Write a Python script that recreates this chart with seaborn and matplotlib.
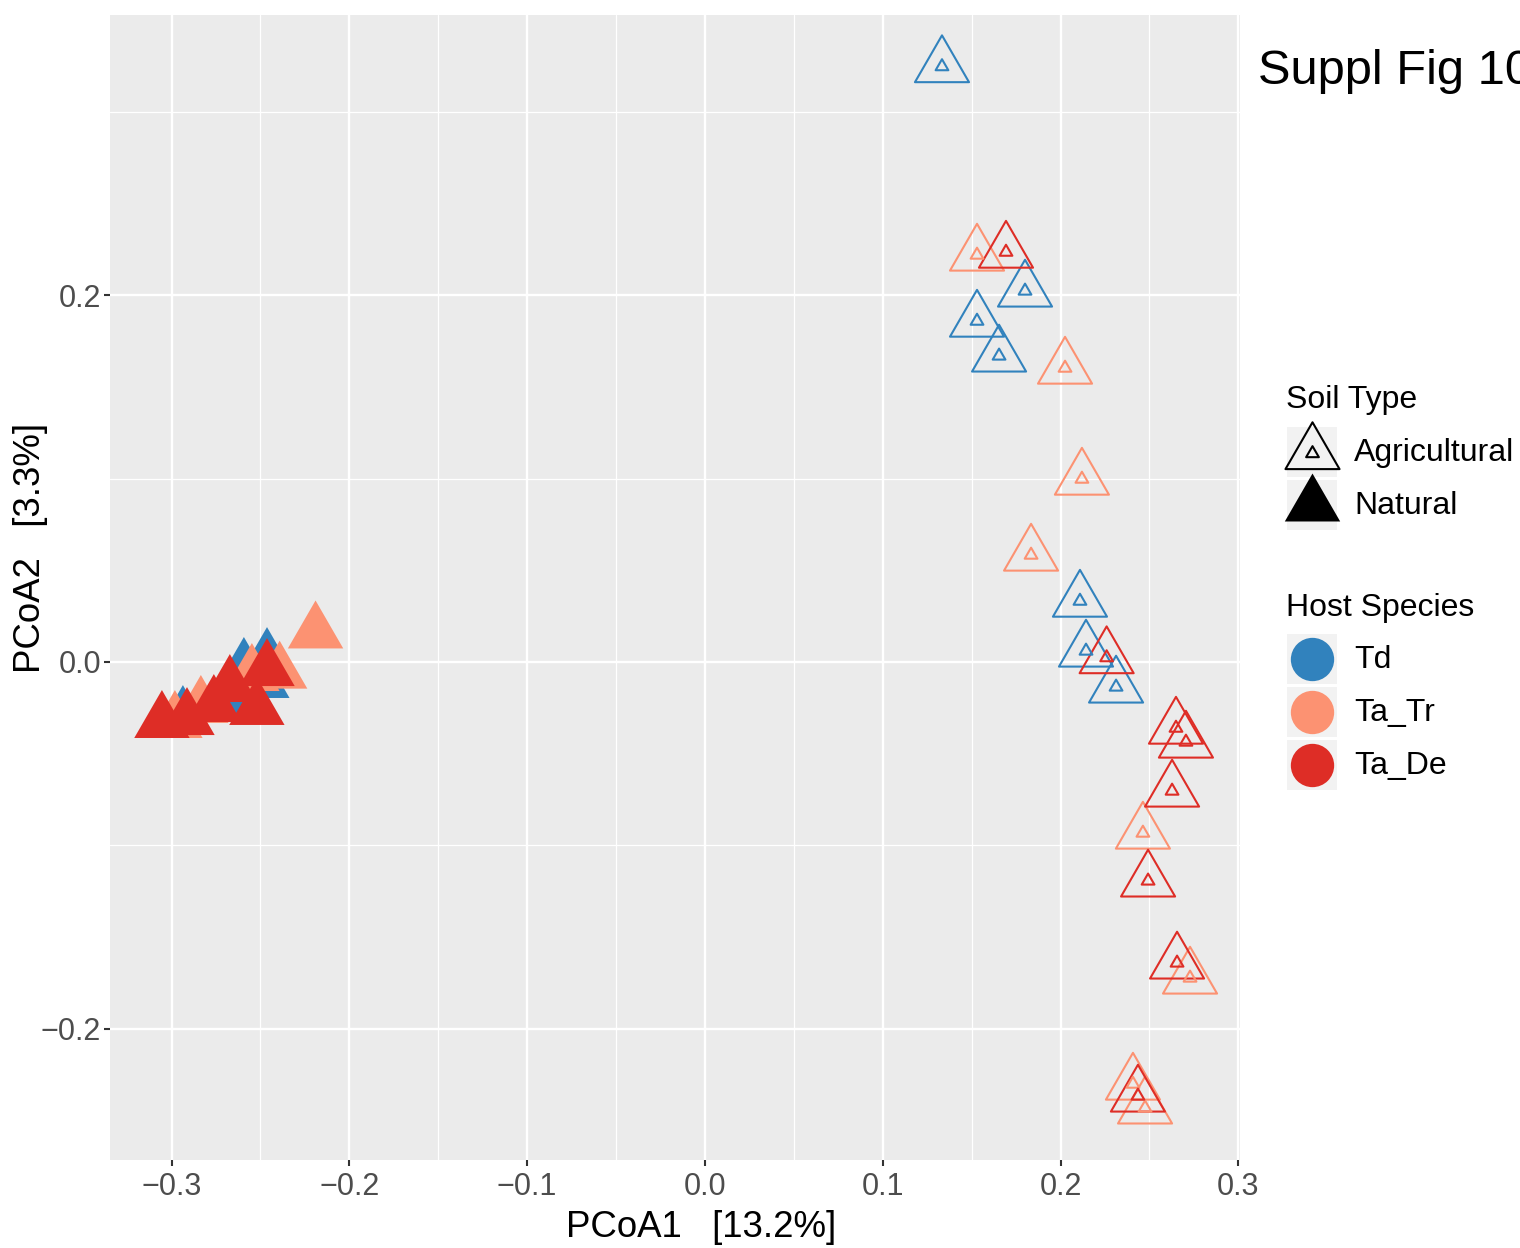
import numpy as np
import pandas as pd
import matplotlib
matplotlib.use("Agg")
import matplotlib.pyplot as plt
import seaborn as sns
from matplotlib.path import Path
from matplotlib.lines import Line2D
from matplotlib.patches import Rectangle
from matplotlib.ticker import FixedLocator

# ---------------- data ----------------
hosts = ["Td", "Ta_Tr", "Ta_De"]
host_colors = ["#3182BD", "#FC9272", "#DE2D26"]
soil_types = ["Agricultural", "Natural"]

# Agricultural soil samples
agr_td_x = [0.1333, 0.1800, 0.1530, 0.1654, 0.2109, 0.2143, 0.2312]
agr_td_y = [0.3245, 0.2022, 0.1858, 0.1668, 0.0332, 0.0060, -0.0136]
agr_tatr_x = [0.1530, 0.2025, 0.2120, 0.1834, 0.2463, 0.2728, 0.2407, 0.2475]
agr_tatr_y = [0.2218, 0.1602, 0.0997, 0.0583, -0.0932, -0.1722, -0.2300, -0.2430]
agr_tade_x = [0.1693, 0.2259, 0.2649, 0.2705, 0.2627, 0.2492, 0.2655, 0.2435]
agr_tade_y = [0.2234, 0.0024, -0.0360, -0.0436, -0.0703, -0.1193, -0.1640, -0.2365]

# Natural soil samples
nat_td_x = [-0.2463, -0.2492, -0.2593, -0.2936, -0.2632]
nat_td_y = [0.0016, -0.0109, -0.0038, -0.0300, -0.0207]
nat_tatr_x = [-0.2190, -0.2392, -0.2548, -0.2835, -0.2981]
nat_tatr_y = [0.0161, -0.0058, -0.0071, -0.0245, -0.0327]
nat_tade_x = [-0.2463, -0.2672, -0.2520, -0.3054, -0.2913, -0.2762]
nat_tade_y = [-0.0044, -0.0131, -0.0256, -0.0327, -0.0311, -0.0240]

x_ticks = [-0.3, -0.2, -0.1, 0.0, 0.1, 0.2, 0.3]
x_tick_labels = ["\u22120.3", "\u22120.2", "\u22120.1", "0.0", "0.1", "0.2", "0.3"]
y_ticks = [-0.2, 0.0, 0.2]
y_tick_labels = ["\u22120.2", "0.0", "0.2"]

rows = []
for soil, groups in [("Natural", [(nat_td_x, nat_td_y, "Td"), (nat_tatr_x, nat_tatr_y, "Ta_Tr"), (nat_tade_x, nat_tade_y, "Ta_De")]),
                     ("Agricultural", [(agr_td_x, agr_td_y, "Td"), (agr_tatr_x, agr_tatr_y, "Ta_Tr"), (agr_tade_x, agr_tade_y, "Ta_De")])]:
    for xs, ys, h in groups:
        for a, b in zip(xs, ys):
            rows.append({"PCoA1": a, "PCoA2": b, "Host": h, "Soil": soil})
df = pd.DataFrame(rows)

# ---------------- style ----------------
sns.set_style("white")
plt.rcParams["font.family"] = ["Liberation Sans", "DejaVu Sans"]
plt.rcParams["text.color"] = "black"
plt.rcParams["axes.labelcolor"] = "black"

W, H = 1520, 1248
DPI = 200
fig = plt.figure(figsize=(W / DPI, H / DPI), dpi=DPI)
fig.patch.set_facecolor("white")

def F(x, y):
    return (x / W, 1 - y / H)

ax = fig.add_axes([110 / W, 1 - 1160 / H, 1130 / W, 1145 / H])
ax.set_facecolor("#EBEBEB")
for s in ax.spines.values():
    s.set_visible(False)

# equilateral triangle centred on its centroid (like R's pch triangle)
tri = Path([(0, 1), (-0.8660, -0.5), (0.8660, -0.5), (0, 1)], closed=True)

palette = dict(zip(hosts, host_colors))
nat = df[df.Soil == "Natural"]
agr = df[df.Soil == "Agricultural"]

sns.scatterplot(data=nat, x="PCoA1", y="PCoA2", hue="Host", hue_order=hosts,
                palette=palette, marker=tri, s=530, linewidth=0,
                legend=False, ax=ax, zorder=3)

for size in (505, 28):
    sns.scatterplot(data=agr, x="PCoA1", y="PCoA2", hue="Host", hue_order=hosts,
                    palette=palette, marker=tri, s=size, linewidth=0.75,
                    legend=False, ax=ax, zorder=3)
    coll = ax.collections[-1]
    fc = coll.get_facecolors()
    coll.set_edgecolors(fc)
    coll.set_facecolors("none")
    coll.set_linewidths(0.75)

ax.set_xlim(-0.3346, 0.3009)
ax.set_ylim(-0.2714, 0.3526)
ax.set_xticks(x_ticks)
ax.set_xticklabels(x_tick_labels)
ax.set_yticks(y_ticks)
ax.set_yticklabels(y_tick_labels)
ax.xaxis.set_minor_locator(FixedLocator([-0.25, -0.15, -0.05, 0.05, 0.15, 0.25]))
ax.yaxis.set_minor_locator(FixedLocator([-0.1, 0.1, 0.3]))
ax.grid(which="major", color="white", linewidth=0.85)
ax.grid(which="minor", color="white", linewidth=0.45)
ax.set_axisbelow(True)
ax.tick_params(which="major", bottom=True, left=True, length=2.2, width=0.75,
               color="#333333", labelcolor="#4D4D4D", labelsize=11, pad=2.2)
ax.tick_params(axis="y", pad=1.0)
ax.tick_params(which="minor", bottom=False, left=False, length=0)

ax.set_xlabel("PCoA1   [13.2%]", fontsize=13.2, color="black", va="baseline")
ax.xaxis.set_label_coords(0.523, -(1237 - 1160) / 1145)
ax.set_ylabel("PCoA2   [3.3%]", fontsize=13.2, color="black", va="baseline")
ax.yaxis.set_label_coords((40 - 110) / 1130, (1160 - 547.5) / 1145)

# title (runs off the right edge, as in the original)
fig.text(*F(1258, 84), "Suppl Fig 10", fontsize=17.6, ha="left", va="baseline", color="black")

# ---------------- legends ----------------
fig.text(*F(1286, 408), "Soil Type", fontsize=11.5, ha="left", va="baseline")
fig.text(*F(1286, 616), "Host Species", fontsize=11.5, ha="left", va="baseline")

key_tops = [427, 480, 634, 687, 740]
for t in key_tops:
    fig.add_artist(Rectangle(F(1287, t + 50), 50 / W, 50 / H, transform=fig.transFigure,
                             facecolor="#F2F2F2", edgecolor="none"))

def fig_marker(x, y, **kw):
    fx, fy = F(x, y)
    fig.add_artist(Line2D([fx], [fy], transform=fig.transFigure, linestyle="none", **kw))

fig_marker(1312, 452.7, marker=tri, markersize=np.sqrt(505), markerfacecolor="none",
           markeredgecolor="black", markeredgewidth=0.75)
fig_marker(1312, 452.7, marker=tri, markersize=np.sqrt(28), markerfacecolor="none",
           markeredgecolor="black", markeredgewidth=0.75)
fig_marker(1312, 505.5, marker=tri, markersize=np.sqrt(530), markerfacecolor="black",
           markeredgewidth=0)
fig.text(*F(1354, 460.7), soil_types[0], fontsize=11.5, ha="left", va="baseline")
fig.text(*F(1354, 514), soil_types[1], fontsize=11.5, ha="left", va="baseline")

for i, (h, c) in enumerate(zip(hosts, host_colors)):
    cy = 659.3 + 53 * i
    fig_marker(1312, cy, marker="o", markersize=15.6, markerfacecolor=c, markeredgewidth=0)
    fig.text(*F(1354, cy + 8.5), h, fontsize=11.5, ha="left", va="baseline")

fig.savefig("out.png", dpi=DPI)
